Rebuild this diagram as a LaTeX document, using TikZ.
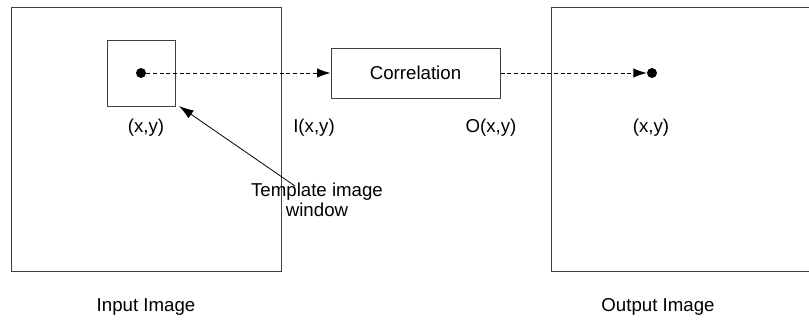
\documentclass[tikz,border=0pt]{standalone}
\usepackage{fontspec}
\setmainfont{Liberation Sans}
\usetikzlibrary{arrows.meta}
\begin{document}
\begin{tikzpicture}[x=0.75pt,y=-0.75pt,
  frame/.style={draw=black!75,line width=0.75pt},
  lbl/.style={font=\fontsize{14}{16}\selectfont,inner sep=0pt},
  dotmark/.style={circle,fill=black,inner sep=0pt,minimum size=7.5pt},
  flow/.style={densely dashed,line width=0.75pt,-{Latex[length=10pt,width=7pt]}},
  point/.style={line width=0.6pt,-{Latex[length=11pt,width=7pt]}}]
\useasboundingbox (0,0) rectangle (809,322);
\node[frame,minimum width=202.5pt,minimum height=198pt,inner sep=0pt] (inbox) at (146,139) {};
\node[frame,minimum width=51pt,minimum height=49.5pt,inner sep=0pt] (win) at (141,73) {};
\node[dotmark] (dot1) at (141,73) {};
\node[frame,minimum width=126.75pt,minimum height=37.5pt,inner sep=0pt,lbl] (corr) at (415.5,73) {Correlation};
\node[frame,minimum width=193.5pt,minimum height=198pt,inner sep=0pt] (outbox) at (680,139) {};
\node[dotmark] (dot2) at (652,73) {};
\node[lbl] (xy1) at (146,128) {(x,y)};
\node[lbl] (ixy) at (314,128) {I(x,y)};
\node[lbl] (oxy) at (491,128) {O(x,y)};
\node[lbl] (xy2) at (651,128) {(x,y)};
\node[lbl,align=center] (tmpl) at (317,200) {Template image\\[-1pt]window};
\node[lbl] (inl) at (146,307) {Input Image};
\node[lbl] (outl) at (658,307) {Output Image};
\coordinate (tstart) at (295,186);
\coordinate (ttip) at (179,106);
\draw[flow] (dot1.east) -- (corr.west);
\draw[flow] (corr.east) -- (dot2.west);
\draw[point] (tstart) -- (ttip);
\end{tikzpicture}
\end{document}
